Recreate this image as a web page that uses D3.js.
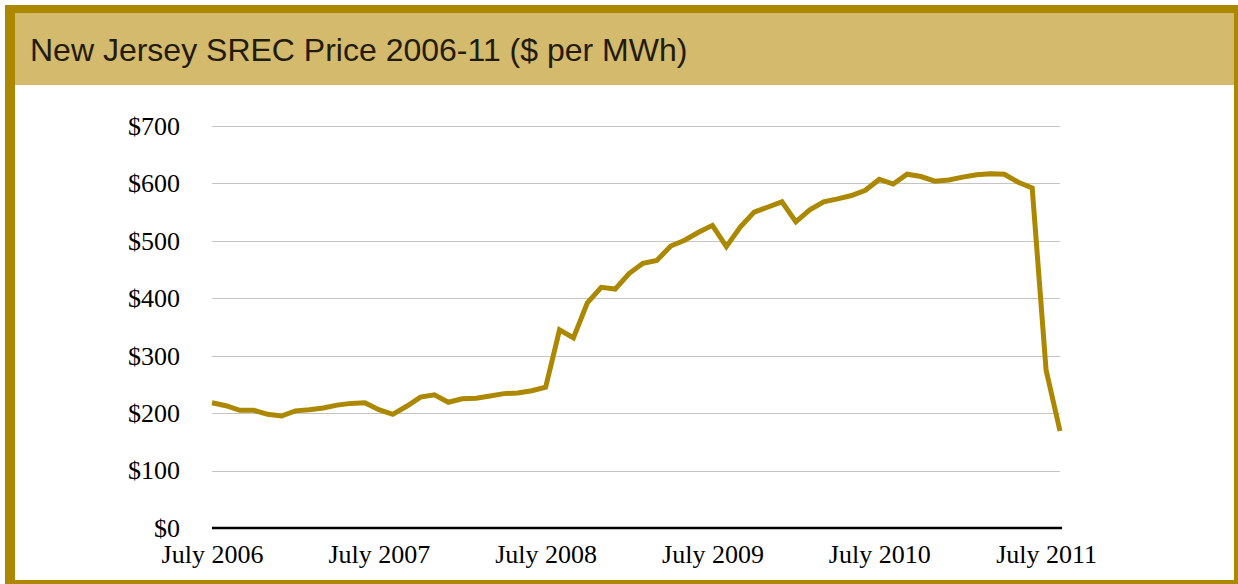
<!DOCTYPE html>
<html>
<head>
<meta charset="utf-8">
<script src="https://cdn.jsdelivr.net/npm/d3@7"></script>
<style>
  html, body { margin: 0; padding: 0; background: #ffffff; }
  svg { display: block; }
</style>
</head>
<body>
<script>
// ---- Data (monthly, July 2006 – August 2011) ----
const months = d3.range(62); // month index from July 2006
const prices = [
  218, 213, 205, 205, 198, 195, 204, 206, 209, 214, 217, 218,
  206, 198, 212, 228, 232, 219, 225, 226, 230, 234, 235, 239,
  245, 345, 331, 392, 419, 416, 443, 461, 466, 491, 501, 515,
  527, 490, 524, 550, 559, 568, 533, 554, 568, 573, 579, 588,
  607, 599, 616, 612, 604, 606, 611, 615, 617, 616, 602, 592,
  275, 169
];
const xTickIndex = [0, 12, 24, 36, 48, 60];
const xTickLabels = ["July 2006", "July 2007", "July 2008", "July 2009", "July 2010", "July 2011"];
const yTicks = [0, 100, 200, 300, 400, 500, 600, 700];
const title = "New Jersey SREC Price 2006-11 ($ per MWh)";

// ---- Layout ----
const W = 1238, H = 584;
const gold = "#AB8800";
const band = "#D3BA6C";

const svg = d3.select("body").append("svg")
  .attr("width", W).attr("height", H);

// frame
svg.append("rect").attr("x", 5).attr("y", 5).attr("width", W + 10).attr("height", H + 10)
  .attr("fill", gold);
svg.append("rect").attr("x", 15).attr("y", 13).attr("width", 1219).attr("height", 567)
  .attr("fill", "#ffffff");
// title band
svg.append("rect").attr("x", 15).attr("y", 13).attr("width", 1219).attr("height", 72)
  .attr("fill", band);
svg.append("text").attr("x", 30).attr("y", 61)
  .attr("font-family", "Liberation Sans, Arial, Helvetica, sans-serif")
  .attr("font-size", 32).attr("fill", "#231b0c")
  .text(title);

// scales
const x = d3.scaleLinear().domain([0, 61]).range([212, 1060]);
const y = d3.scaleLinear().domain([0, 700]).range([528, 126]);

// gridlines
svg.append("g").selectAll("line").data(yTicks.filter(d => d > 0)).join("line")
  .attr("x1", 212).attr("x2", 1060)
  .attr("y1", d => Math.round(y(d)) + 0.5).attr("y2", d => Math.round(y(d)) + 0.5)
  .attr("stroke", "#c4c4c4").attr("stroke-width", 1);

// y axis labels
const yAxis = d3.axisLeft(y).tickValues(yTicks).tickSize(0).tickPadding(0)
  .tickFormat(d => "$" + d);
const gy = svg.append("g").attr("transform", "translate(180,0)").call(yAxis);
gy.select(".domain").remove();
gy.selectAll("text")
  .attr("font-family", "Liberation Serif, Times New Roman, serif")
  .attr("font-size", 26).attr("fill", "#000").attr("dy", "0.32em");

// x axis
const xAxis = d3.axisBottom(x).tickValues(xTickIndex).tickSize(0).tickPadding(0)
  .tickFormat((d, i) => xTickLabels[i]);
const gx = svg.append("g").attr("transform", "translate(0,528)").call(xAxis);
gx.select(".domain").remove();
gx.selectAll("text")
  .attr("font-family", "Liberation Serif, Times New Roman, serif")
  .attr("font-size", 26).attr("fill", "#000").attr("y", 0).attr("dy", 35);
svg.append("line").attr("x1", 212).attr("x2", 1062).attr("y1", 528).attr("y2", 528)
  .attr("stroke", "#000").attr("stroke-width", 2.5);

// line
const line = d3.line().x((d, i) => x(months[i])).y(d => y(d));
svg.append("path").datum(prices)
  .attr("d", line)
  .attr("fill", "none").attr("stroke", gold).attr("stroke-width", 5)
  .attr("stroke-linejoin", "miter");
</script>
</body>
</html>
